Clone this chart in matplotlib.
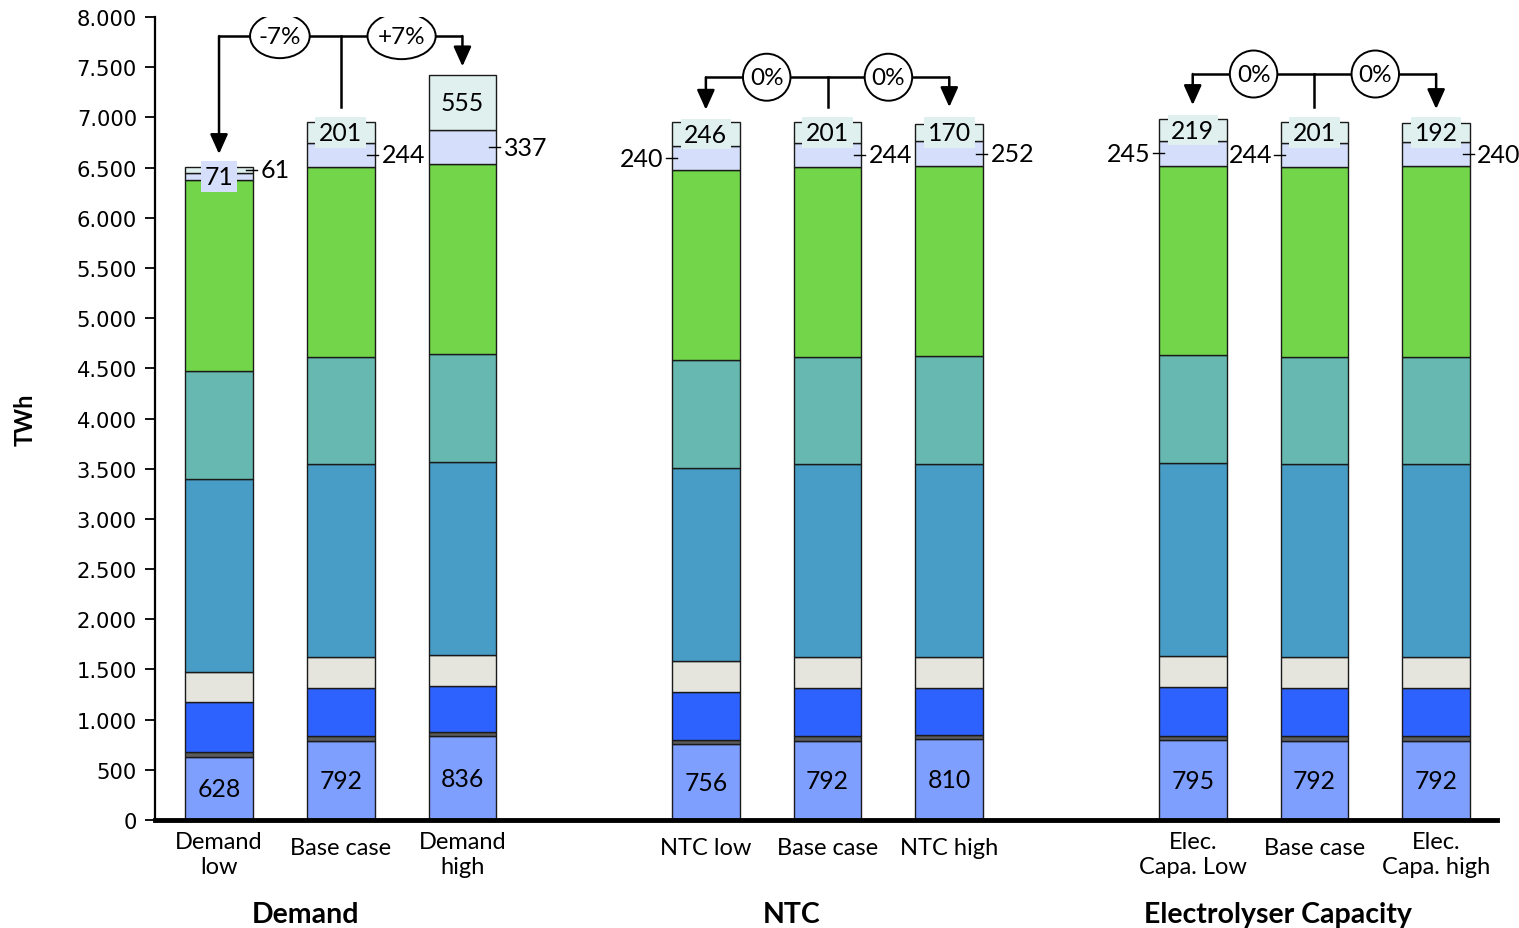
import matplotlib
matplotlib.use("Agg")
import matplotlib.pyplot as plt
from matplotlib.patches import Ellipse
from matplotlib.ticker import FuncFormatter, MultipleLocator

plt.rcParams["font.family"] = ["Lato", "DejaVu Sans"]

# ---- data (TWh) -------------------------------------------------------
scenarios = ["Demand\nlow", "Base case", "Demand\nhigh",
             "NTC low", "Base case", "NTC high",
             "Elec.\nCapa. Low", "Base case", "Elec.\nCapa. high"]
positions = [0, 1, 2, 4, 5, 6, 8, 9, 10]
groups = ["Demand", "NTC", "Electrolyser Capacity"]

layer_1 = [628, 792, 836, 756, 792, 810, 795, 792, 792]
layer_2 = [50, 45, 43, 40, 45, 37, 39, 45, 42]
layer_3 = [497, 475, 456, 484, 475, 468, 488, 475, 481]
layer_4 = [300, 309, 306, 303, 309, 306, 309, 309, 306]
layer_5 = [1923, 1926, 1925, 1923, 1926, 1926, 1922, 1926, 1923]
layer_6 = [1076, 1065, 1076, 1076, 1065, 1075, 1076, 1065, 1071]
layer_7 = [1903, 1893, 1893, 1889, 1893, 1890, 1889, 1893, 1897]
layer_8 = [71, 244, 337, 240, 244, 252, 245, 244, 240]
layer_9 = [61, 201, 555, 246, 201, 170, 219, 201, 192]

changes = ["-7%", "+7%", "0%", "0%", "0%", "0%"]

colors = ["#7F9FFF", "#5B5B5B", "#2D62FF", "#E5E5DE", "#479DC6",
          "#67B8B1", "#73D64A", "#D5DFFB", "#DFF0EE"]

layers = [layer_1, layer_2, layer_3, layer_4, layer_5,
          layer_6, layer_7, layer_8, layer_9]

# ---- figure -----------------------------------------------------------
W, H, DPI = 1519, 929, 100
fig = plt.figure(figsize=(W / DPI, H / DPI), dpi=DPI)
ax = fig.add_axes([155 / W, 1 - 821 / H, (1497 - 155) / W, (821 - 18) / H])

bar_w = 0.557
bottoms = [0.0] * len(positions)
for vals, col in zip(layers, colors):
    ax.bar(positions, vals, width=bar_w, bottom=bottoms, color=col,
           edgecolor="#1a1a1a", linewidth=1.0, zorder=2)
    bottoms = [b + v for b, v in zip(bottoms, vals)]

ax.set_xlim(-0.526, 10.50)
ax.set_ylim(0, 8000)
ax.yaxis.set_major_locator(MultipleLocator(500))
ax.yaxis.set_major_formatter(FuncFormatter(lambda v, p: f"{int(v):,}".replace(",", ".")))
ax.tick_params(axis="y", labelsize=15.2, length=7, width=1.3, pad=6)
for lab in ax.get_yticklabels():
    lab.set_fontfamily("DejaVu Sans")
ax.set_xticks([])
for s in ("top", "right"):
    ax.spines[s].set_visible(False)
ax.spines["left"].set_linewidth(1.6)
ax.spines["bottom"].set_linewidth(3.5)

# ---- value labels -----------------------------------------------------
num_fs = 17.8
side = ["right", "right", "right", "left", "right", "right", "left", "left", "right"]
for i, x in enumerate(positions):
    base1 = layer_1[i]
    ax.text(x, base1 / 2, f"{base1}", ha="center", va="center",
            fontsize=num_fs, zorder=5)
    top_green = sum(layers[k][i] for k in range(7))
    lav_mid = top_green + layer_8[i] / 2
    mint_mid = top_green + layer_8[i] + layer_9[i] / 2
    if i == 0:
        box_val, box_y, box_col = layer_8[i], lav_mid, colors[7]
        side_val, side_y = layer_9[i], mint_mid
    else:
        box_val, box_y, box_col = layer_9[i], mint_mid, colors[8]
        side_val, side_y = layer_8[i], lav_mid
    ax.text(x, box_y, f"{box_val}", ha="center", va="center", fontsize=num_fs,
            zorder=6, bbox=dict(boxstyle="square,pad=0.15", fc=box_col, ec="none"))
    if side[i] == "right":
        edge = x + bar_w / 2
        ax.plot([edge - 0.06, edge + 0.03], [side_y, side_y], color="black",
                lw=1.0, zorder=6)
        ax.text(edge + 0.06, side_y, f"{side_val}", ha="left", va="center",
                fontsize=18, zorder=6)
    else:
        edge = x - bar_w / 2
        ax.plot([edge - 0.05, edge + 0.04], [side_y, side_y], color="black",
                lw=1.0, zorder=6)
        ax.text(edge - 0.07, side_y, f"{side_val}", ha="right", va="center",
                fontsize=18, zorder=6)

# ---- scenario change connectors --------------------------------------
# (left x, centre x, right x, line y, centre stub bottom, left tip, right tip)
connectors = [
    (0, 1, 2, 7810, 7103, 6635, 7508),
    (4, 5, 6, 7400, 7103, 7076, 7103),
    (8, 9, 10, 7432, 7103, 7123, 7083),
]
bubble_w = [(0.49, 0.56), (0.39, 0.39), (0.39, 0.39)]
bubble_h = [(440, 460), (468, 468), (468, 468)]
arrow_kw = dict(arrowstyle="-|>,head_width=0.27,head_length=0.6",
                color="black", lw=1.8, shrinkA=0, shrinkB=0,
                mutation_scale=20)
for g, (xl, xc, xr, ly, stub, tl, tr) in enumerate(connectors):
    ax.plot([xl, xr], [ly, ly], color="black", lw=1.8, zorder=7,
            solid_capstyle="butt")
    ax.plot([xc, xc], [ly, stub], color="black", lw=1.8, zorder=7)
    ax.annotate("", xy=(xl, tl), xytext=(xl, ly), arrowprops=arrow_kw, zorder=7)
    ax.annotate("", xy=(xr, tr), xytext=(xr, ly), arrowprops=arrow_kw, zorder=7)
    for k, (xa, xb) in enumerate([(xl, xc), (xc, xr)]):
        cx = (xa + xb) / 2
        ax.add_patch(Ellipse((cx, ly), bubble_w[g][k], bubble_h[g][k],
                             fc="white", ec="black", lw=1.4, zorder=8))
        ax.text(cx, ly, changes[2 * g + k], ha="center", va="center",
                fontsize=17.5, zorder=9)

# ---- category and group labels ---------------------------------------
for x, lab in zip(positions, scenarios):
    off = -34 if "\n" in lab else -28
    ax.annotate(lab, xy=(x, 0), xycoords=("data", "axes fraction"),
                xytext=(0, off), textcoords="offset pixels",
                ha="center", va="center", fontsize=17, linespacing=1.2)

group_x = [0.713, 4.705, 8.697]
for x, lab in zip(group_x, groups):
    ax.annotate(lab, xy=(x, 0), xycoords=("data", "axes fraction"),
                xytext=(0, -94), textcoords="offset pixels",
                ha="center", va="center", fontsize=20.5, fontweight="bold")

fig.text(25 / W, 1 - 420 / H, "TWh", rotation=90, ha="center", va="center",
         fontsize=17, fontweight="bold")

fig.savefig("out.png", dpi=DPI)
